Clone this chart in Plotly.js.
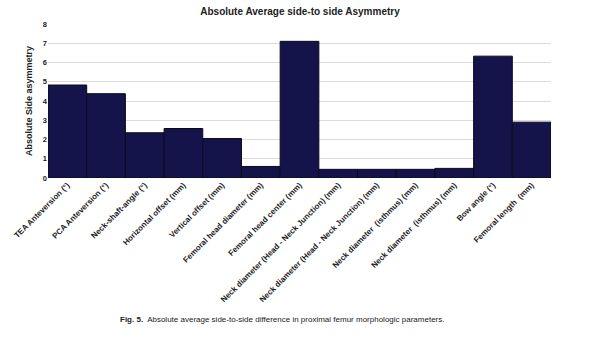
<!DOCTYPE html>
<html><head><meta charset="utf-8">
<script src="https://cdn.plot.ly/plotly-3.0.1.min.js"></script>
<style>html,body{margin:0;padding:0;background:#fff}#c{width:600px;height:338px}</style>
</head><body><div id="c"></div>
<script>
const categories = ["TEA Anteversion (°)","PCA Anteversion (°)","Neck-shaft-angle (°)","Horizontal offset (mm)","Vertical offset (mm)","Femoral head diameter (mm)","Femoral head center (mm)","Neck diameter (Head - Neck Junction) (mm)","Neck diameter (Head - Neck Junction) (mm)","Neck diameter  (isthmus) (mm)","Neck diameter  (isthmus) (mm)","Bow angle (°)","Femoral length  (mm)"];
const values = [4.83, 4.38, 2.35, 2.57, 2.05, 0.6, 7.1, 0.45, 0.45, 0.45, 0.5, 6.33, 2.9];
const positions = categories.map((c,i)=>i);
const yTicks = [0,1,2,3,4,5,6,7,8];

Plotly.newPlot('c', [{
  type:'bar', x:positions, y:values,
  marker:{color:'#14144a', line:{color:'#0a0a1e', width:1}},
  width:1, hoverinfo:'skip'
}], {
  width:600, height:338,
  margin:{l:48, r:49, t:24, b:160},
  paper_bgcolor:'#fff', plot_bgcolor:'#fff',
  bargap:0,
  title:{text:'<b>Absolute Average side-to side Asymmetry</b>', x:0.5, xanchor:'center', y:0.975, yanchor:'top', font:{family:'Arial, Liberation Sans', size:10, color:'#222'}},
  xaxis:{tickvals:positions, ticktext:categories, tickangle:-45, range:[-0.5,12.5],
    tickfont:{family:'Arial, Liberation Sans', size:8, color:'#222', weight:'bold'},
    showgrid:false, zeroline:false, showline:false, ticks:'', automargin:false},
  yaxis:{range:[0,8], tickvals:yTicks, ticks:'', showgrid:true, gridcolor:'#dcdcdc', gridwidth:1,
    zeroline:false, showline:false,
    tickfont:{family:'Arial, Liberation Sans', size:7.5, color:'#222', weight:'bold'},
    title:{text:'<b>Absolute Side asymmetry</b>', standoff:8, font:{family:'Arial, Liberation Sans', size:9, color:'#222'}}, automargin:false},
  annotations:[{xref:'paper', yref:'paper', x:0.465, y:-0.92, xanchor:'center', yanchor:'middle', showarrow:false,
    text:'<b>Fig. 5.</b>  Absolute average side-to-side difference in proximal femur morphologic parameters.',
    font:{family:'Liberation Sans Narrow, Arial Narrow, sans-serif', size:8, color:'#222'}}],
  showlegend:false
}, {displayModeBar:false, staticPlot:true});
</script></body></html>
